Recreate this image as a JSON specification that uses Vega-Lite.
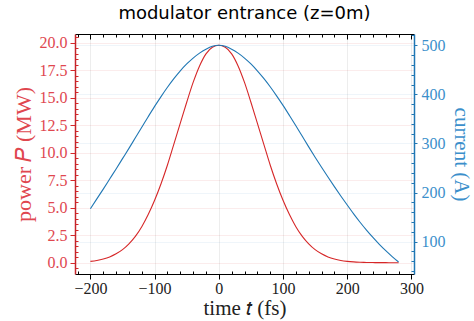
{
  "$schema": "https://vega.github.io/schema/vega-lite/v6.json",
  "autosize": {"type": "none"},
  "padding": {"left": 75, "top": 34, "right": 60, "bottom": 47},
  "width": 339,
  "height": 240,
  "config": {"view": {"stroke": null}, "background": "white", "axis": {"labelFont": "Liberation Serif", "titleFont": "Liberation Serif"}},
  "title": {"text": "modulator entrance (z=0m)", "font": "DejaVu Sans", "fontSize": 18, "fontWeight": "normal", "color": "black", "anchor": "middle", "offset": 4},
  "data": {"values": [
    {"t": -200, "P": 0.15, "I": 167}, {"t": -190, "P": 0.23, "I": 187}, {"t": -180, "P": 0.36, "I": 207},
    {"t": -170, "P": 0.55, "I": 227.5}, {"t": -160, "P": 0.83, "I": 248}, {"t": -150, "P": 1.21, "I": 269},
    {"t": -140, "P": 1.74, "I": 290}, {"t": -130, "P": 2.42, "I": 311.5}, {"t": -120, "P": 3.3, "I": 333},
    {"t": -110, "P": 4.4, "I": 354.5}, {"t": -100, "P": 5.7, "I": 375.5}, {"t": -90, "P": 7.2, "I": 395.5},
    {"t": -80, "P": 8.9, "I": 414.5}, {"t": -70, "P": 10.8, "I": 432}, {"t": -60, "P": 12.7, "I": 448},
    {"t": -50, "P": 14.6, "I": 462}, {"t": -40, "P": 16.4, "I": 474}, {"t": -30, "P": 17.9, "I": 484},
    {"t": -20, "P": 19.0, "I": 492}, {"t": -10, "P": 19.6, "I": 498}, {"t": 0, "P": 19.78, "I": 500},
    {"t": 10, "P": 19.6, "I": 498}, {"t": 20, "P": 19.0, "I": 492}, {"t": 30, "P": 17.9, "I": 484},
    {"t": 40, "P": 16.4, "I": 474}, {"t": 50, "P": 14.6, "I": 462}, {"t": 60, "P": 12.7, "I": 448},
    {"t": 70, "P": 10.8, "I": 432.5}, {"t": 80, "P": 8.9, "I": 415.5}, {"t": 90, "P": 7.2, "I": 397},
    {"t": 100, "P": 5.7, "I": 377.5}, {"t": 110, "P": 4.4, "I": 357}, {"t": 120, "P": 3.3, "I": 336},
    {"t": 130, "P": 2.42, "I": 314.5}, {"t": 140, "P": 1.74, "I": 293}, {"t": 150, "P": 1.21, "I": 272},
    {"t": 160, "P": 0.83, "I": 251.5}, {"t": 170, "P": 0.55, "I": 231.5}, {"t": 180, "P": 0.36, "I": 212},
    {"t": 190, "P": 0.23, "I": 193}, {"t": 200, "P": 0.15, "I": 174.5}, {"t": 210, "P": 0.1, "I": 156.5},
    {"t": 220, "P": 0.07, "I": 139.5}, {"t": 230, "P": 0.05, "I": 123.5}, {"t": 240, "P": 0.04, "I": 108.5},
    {"t": 250, "P": 0.03, "I": 94.5}, {"t": 260, "P": 0.03, "I": 81.5}, {"t": 270, "P": 0.02, "I": 69.5},
    {"t": 280, "P": 0.02, "I": 58.5}
  ]},
  "layer": [
    {
      "mark": {"type": "line", "color": "#d62728", "strokeWidth": 1.1, "interpolate": "monotone"},
      "encoding": {
        "x": {"field": "t", "type": "quantitative",
          "scale": {"domain": [-224, 304], "nice": false, "zero": false},
          "axis": {"orient": "bottom", "title": "time 𝑡 (fs)",
            "values": [-220,-200,-180,-160,-140,-120,-100,-80,-60,-40,-20,0,20,40,60,80,100,120,140,160,180,200,220,240,260,280,300],
            "labelExpr": "datum.value % 100 == 0 ? datum.label : ''",
            "labelOverlap": false, "labelFlush": false,
            "labelFont": "Liberation Serif", "labelFontSize": 16, "labelColor": "#222222", "labelPadding": 1,
            "titleFont": "Liberation Serif", "titleFontSize": 21, "titleFontWeight": "normal", "titleColor": "#222222", "titlePadding": 1,
            "domainColor": "black", "domainWidth": 1.2,
            "tickColor": "black", "tickWidth": 1,
            "tickSize": {"condition": {"test": "datum.value % 100 != 0", "value": -3}, "value": 5},
            "grid": true, "gridColor": "#000000",
            "gridOpacity": {"condition": {"test": "datum.value % 100 != 0", "value": 0}, "value": 0.07}
          }},
        "y": {"field": "P", "type": "quantitative",
          "scale": {"domain": [-1.0, 20.8], "nice": false, "zero": false},
          "axis": {"orient": "left", "title": "power 𝑃 (MW)",
            "values": [-0.5,0,0.5,1,1.5,2,2.5,3,3.5,4,4.5,5,5.5,6,6.5,7,7.5,8,8.5,9,9.5,10,10.5,11,11.5,12,12.5,13,13.5,14,14.5,15,15.5,16,16.5,17,17.5,18,18.5,19,19.5,20,20.5],
            "format": ".1f",
            "labelExpr": "datum.value % 2.5 == 0 ? datum.label : ''",
            "labelOverlap": false, "labelFlush": false,
            "labelFont": "Liberation Serif", "labelFontSize": 16, "labelColor": "#e0474f", "labelPadding": 3,
            "titleFont": "Liberation Serif", "titleFontSize": 22, "titleFontWeight": "normal", "titleColor": "#e0474f", "titlePadding": 4,
            "domainColor": "#c4242a", "domainWidth": 1.5,
            "tickColor": "#d62728", "tickWidth": 1,
            "tickSize": {"condition": {"test": "datum.value % 2.5 != 0", "value": -3}, "value": 5},
            "grid": true, "gridColor": "#d62728",
            "gridOpacity": {"condition": {"test": "datum.value % 2.5 != 0", "value": 0}, "value": 0.09}
          }}
      }
    },
    {
      "mark": {"type": "line", "color": "#1f77b4", "strokeWidth": 1.1, "interpolate": "monotone"},
      "encoding": {
        "x": {"field": "t", "type": "quantitative",
          "axis": {"orient": "top", "title": null, "labels": false,
            "values": [-220,-200,-180,-160,-140,-120,-100,-80,-60,-40,-20,0,20,40,60,80,100,120,140,160,180,200,220,240,260,280,300],
            "domainColor": "black", "domainWidth": 1.2,
            "tickColor": "black", "tickWidth": 1,
            "tickSize": {"condition": {"test": "datum.value % 100 != 0", "value": -3}, "value": -5},
            "grid": false
          }},
        "y": {"field": "I", "type": "quantitative",
          "scale": {"domain": [34, 523], "nice": false, "zero": false},
          "axis": {"orient": "right", "title": "current (A)",
            "values": [40,60,80,100,120,140,160,180,200,220,240,260,280,300,320,340,360,380,400,420,440,460,480,500,520],
            "format": "d",
            "labelExpr": "datum.value % 100 == 0 ? datum.label : ''",
            "labelOverlap": false, "labelFlush": false,
            "labelFont": "Liberation Serif", "labelFontSize": 16, "labelColor": "#3b8fcb", "labelPadding": 4,
            "titleFont": "Liberation Serif", "titleFontSize": 21, "titleFontWeight": "normal", "titleColor": "#3b8fcb", "titlePadding": 5,
            "domainColor": "#1f77b4", "domainWidth": 1.5,
            "tickColor": "#1f77b4", "tickWidth": 1,
            "tickSize": {"condition": {"test": "datum.value % 100 != 0", "value": -3}, "value": 3},
            "grid": true, "gridColor": "#1f77b4",
            "gridOpacity": {"condition": {"test": "datum.value % 100 != 0", "value": 0}, "value": 0.07}
          }}
      }
    }
  ],
  "resolve": {"scale": {"y": "independent"}, "axis": {"x": "independent", "y": "independent"}}
}
